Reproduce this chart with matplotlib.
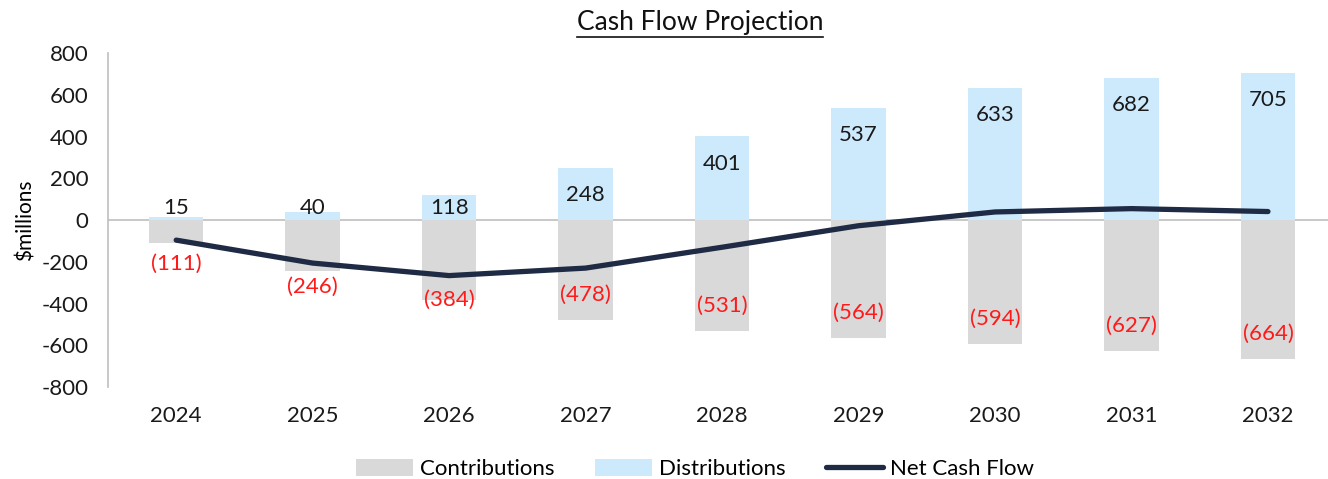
import numpy as np
import matplotlib.pyplot as plt
from matplotlib.lines import Line2D

plt.rcParams['font.family'] = ['Lato', 'DejaVu Sans']
plt.rcParams['axes.unicode_minus'] = False

years = ["2024", "2025", "2026", "2027", "2028", "2029", "2030", "2031", "2032"]
contributions = [-111, -246, -384, -478, -531, -564, -594, -627, -664]
distributions = [15, 40, 118, 248, 401, 537, 633, 682, 705]

GRAY = "#d9d9d9"
BLUE = "#cdeafd"
NAVY = "#1f2a44"

contrib = np.array(contributions)
dist = np.array(distributions)
net = contrib + dist
x = np.arange(len(years))

fig = plt.figure(figsize=(13.28, 4.79), dpi=100)
ax = fig.add_axes([0.0813, 0.192, 0.9187, 0.697])

b1 = ax.bar(x, contrib, width=0.4, color=GRAY, label="Contributions", zorder=2)
b2 = ax.bar(x, dist, width=0.4, color=BLUE, label="Distributions", zorder=2)
ln, = ax.plot(x, net, color=NAVY, lw=3.8, solid_capstyle="round", label="Net Cash Flow", zorder=4)
ax.axhline(0, color="#bfbfbf", lw=1.2, zorder=1)

# distribution labels: inside end, pushed above zero for short bars
for xi, v in zip(x, dist):
    ax.text(xi, max(v - 130, 60), f"{v}", ha="center", va="center",
            fontsize=16, color="#1a1a1a", zorder=5)

# contribution labels: inside end, or below the line when the bar is short
for xi, v, n in zip(x, contrib, net):
    ax.text(xi, min(v + 120, n - 115), f"({abs(v)})", ha="center", va="center",
            fontsize=16, color="#ff1a1a", zorder=5)

ax.set_ylim(-800, 800)
ax.set_yticks(np.arange(-800, 801, 200))
ax.set_xlim(-0.5, 8.44)
ax.set_xticks(x)
ax.set_xticklabels(years)
ax.tick_params(axis="both", length=0, labelsize=16, colors="#1a1a1a")
ax.tick_params(axis="x", pad=14)
ax.tick_params(axis="y", pad=14)
ax.set_ylabel("$millions", fontsize=15, labelpad=4)

for s in ["top", "right", "bottom"]:
    ax.spines[s].set_visible(False)
ax.spines["left"].set_color("#bfbfbf")
ax.spines["left"].set_linewidth(1.2)

ax.legend([b1, b2, ln], ["Contributions", "Distributions", "Net Cash Flow"],
          loc="center", bbox_to_anchor=(0.481, -0.245), ncol=3, frameon=False,
          fontsize=16, handlelength=2.6, handleheight=0.8, columnspacing=1.8,
          handletextpad=0.3)

title = fig.text(0.527, 0.953, "Cash Flow Projection", ha="center", va="center",
                 fontsize=19, color="#111111")
fig.canvas.draw()
bb = title.get_window_extent().transformed(fig.transFigure.inverted())
fig.add_artist(Line2D([bb.x0, bb.x1], [bb.y0 - 0.004, bb.y0 - 0.004],
                      transform=fig.transFigure, color="#111111", lw=1.2))

fig.savefig("out.png", dpi=100)
